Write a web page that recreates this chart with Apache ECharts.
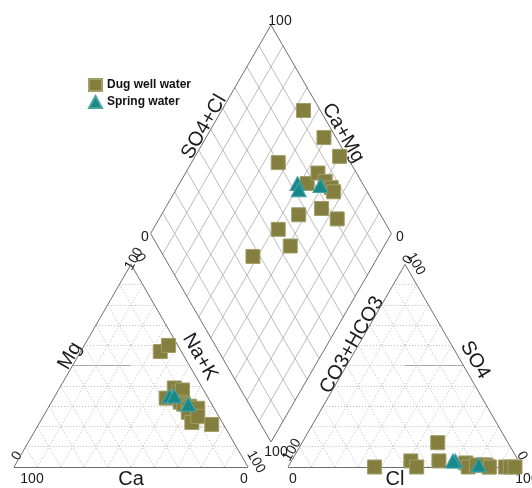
<!DOCTYPE html>
<html>
<head>
<meta charset="utf-8">
<script src="https://cdn.jsdelivr.net/npm/echarts@6/dist/echarts.min.js"></script>
<style>
  html, body { margin: 0; padding: 0; background: #fff; }
  #chart { width: 532px; height: 488px; }
</style>
</head>
<body>
<div id="chart"></div>
<script>
// Piper diagram: cation triangle (left), anion triangle (right), projection diamond (top)

// ---- sample compositions (meq %) ----
const seriesNames = ['Dug well water', 'Spring water'];

// Dug well water
const dugCa   = [9, 4, 12, 18, 11, 9, 13, 12, 10, 11, 12, 7, 13, 9, 5];
const dugMg   = [57, 60, 39, 34, 37, 38, 32, 31, 30, 29, 27, 29, 22, 25, 21];
const dugNaK  = [34, 36, 49, 48, 52, 53, 55, 57, 60, 60, 61, 64, 65, 66, 74];
const dugHCO3 = [7, 30, 5, 63, 46, 23, 16, 34, 3, 15, 45, 14, 23, 14, 19];
const dugSO4  = [0, 12, 0, 0, 3, 2, 1, 3, 0, 1, 0, 0, 0, 0, 1];
const dugCl   = [93, 58, 95, 37, 51, 75, 83, 63, 97, 84, 55, 86, 77, 86, 80];

// Spring water
const sprCa   = [16, 14, 10];
const sprMg   = [35, 35, 31];
const sprNaK  = [49, 51, 59];
const sprHCO3 = [27, 28, 18];
const sprSO4  = [3, 3, 1];
const sprCl   = [70, 69, 81];

// Tick labels
const tickMin = '0';
const tickMax = '100';

// ---- layout (plot units = pixels) ----
const W = 532, H = 488;
const S3 = Math.sqrt(3) / 2;
const triSide = 234;
const catBL = [14, 467], catBR = [catBL[0] + triSide, 467];
const catTop = [(catBL[0] + catBR[0]) / 2, 467 - triSide * S3];
const anBL = [288, 467], anBR = [anBL[0] + triSide, 467];
const anTop = [(anBL[0] + anBR[0]) / 2, 467 - triSide * S3];
const dBottom = [271, 442], dTop = [271, 25];
const dHalfH = (dBottom[1] - dTop[1]) / 2;
const dHalfW = dHalfH / Math.sqrt(3);
const dLeft = [271 - dHalfW, dBottom[1] - dHalfH];
const dRight = [271 + dHalfW, dBottom[1] - dHalfH];

function lerp2(o, u, v, s, t) {
  return [o[0] + s * (u[0] - o[0]) + t * (v[0] - o[0]),
          o[1] + s * (u[1] - o[1]) + t * (v[1] - o[1])];
}
function catPoint(ca, mg, nak) {
  const sum = ca + mg + nak;
  return lerp2(catBL, catBR, catTop, nak / sum, mg / sum);
}
function anPoint(hco3, so4, cl) {
  const sum = hco3 + so4 + cl;
  return lerp2(anBL, anBR, anTop, cl / sum, so4 / sum);
}
function diaPoint(ca, mg, nak, hco3, so4, cl) {
  const c = (ca + mg) / (ca + mg + nak);
  const a = (so4 + cl) / (hco3 + so4 + cl);
  return lerp2(dBottom, dLeft, dRight, c, a);
}
function allPoints(ca, mg, nak, hco3, so4, cl) {
  const pts = [];
  for (let i = 0; i < ca.length; i++) {
    pts.push(catPoint(ca[i], mg[i], nak[i]));
    pts.push(anPoint(hco3[i], so4[i], cl[i]));
    pts.push(diaPoint(ca[i], mg[i], nak[i], hco3[i], so4[i], cl[i]));
  }
  return pts;
}

// ---- frames and grid ----
const frameSegs = [], dotSegs = [], diaSegs = [], halfSegs = [];
function seg(arr, p, q) { arr.push({ coords: [p, q] }); }
function triGrid(bl, br, top) {
  seg(frameSegs, bl, br); seg(frameSegs, br, top); seg(frameSegs, top, bl);
  for (let k = 1; k < 10; k++) {
    const f = k / 10;
    // constant apex share
    seg(dotSegs, lerp2(bl, br, top, 0, f), lerp2(bl, br, top, 1 - f, f));
    // constant right-vertex share
    seg(dotSegs, lerp2(bl, br, top, f, 0), lerp2(bl, br, top, f, 1 - f));
    // constant left-vertex share
    seg(dotSegs, lerp2(bl, br, top, 1 - f, 0), lerp2(bl, br, top, 0, 1 - f));
  }
}
triGrid(catBL, catBR, catTop);
triGrid(anBL, anBR, anTop);
seg(halfSegs, lerp2(catBL, catBR, catTop, 0, 0.5), lerp2(catBL, catBR, catTop, 0.25, 0.5));
seg(halfSegs, lerp2(anBL, anBR, anTop, 0.25, 0.5), lerp2(anBL, anBR, anTop, 0.5, 0.5));

seg(frameSegs, dBottom, dLeft); seg(frameSegs, dLeft, dTop);
seg(frameSegs, dTop, dRight); seg(frameSegs, dRight, dBottom);
for (let k = 1; k < 10; k++) {
  const f = k / 10;
  seg(diaSegs, lerp2(dBottom, dLeft, dRight, f, 0), lerp2(dBottom, dLeft, dRight, f, 1));
  seg(diaSegs, lerp2(dBottom, dLeft, dRight, 0, f), lerp2(dBottom, dLeft, dRight, 1, f));
}

// ---- text ----
const FONT = '"Liberation Sans", Arial, sans-serif';
const R60 = Math.PI / 3;
function txt(s, x, y, size, rot) {
  return {
    type: 'text', x: x, y: y, rotation: rot || 0, silent: true,
    style: { text: s, fill: '#1a1a1a', font: size + 'px ' + FONT, align: 'center', verticalAlign: 'middle' }
  };
}
const texts = [
  // cation triangle
  txt(tickMax, 32, 479, 14), txt('Ca', 131, 479, 20), txt(tickMin, 244, 479, 14),
  txt(tickMin, 17, 456, 14, R60), txt(tickMax, 134, 259, 14, R60),
  txt(tickMin, 140, 258, 14, -R60), txt(tickMax, 256, 462, 14, -R60),
  txt('Mg', 70, 356, 20, R60), txt('Na+K', 200, 357, 20, -R60),
  // diamond
  txt(tickMax, 280, 21, 14), txt(tickMin, 145, 237, 14), txt(tickMin, 400, 237, 14),
  txt(tickMax, 276, 452, 14),
  txt('SO4+Cl', 204, 127, 20, R60), txt('Ca+Mg', 343, 133, 20, -R60),
  // anion triangle
  txt(tickMin, 293, 479, 14), txt('Cl', 395, 479, 20), txt(tickMax, 527, 479, 14),
  txt(tickMax, 292, 450, 14, R60), txt(tickMin, 408, 260, 14, R60),
  txt(tickMax, 416, 264, 14, -R60), txt(tickMin, 522, 456, 14, -R60),
  txt('CO3+HCO3', 352, 345, 20, R60), txt('SO4', 475, 360, 20, -R60)
];

const chart = echarts.init(document.getElementById('chart'), null, { renderer: 'canvas' });
chart.setOption({
  animation: false,
  backgroundColor: '#ffffff',
  grid: { left: 0, right: 0, top: 0, bottom: 0 },
  xAxis: { type: 'value', min: 0, max: W, show: false },
  yAxis: { type: 'value', min: 0, max: H, inverse: true, show: false },
  legend: {
    data: seriesNames, orient: 'vertical', left: 83, top: 73,
    itemWidth: 13, itemHeight: 12, itemGap: 3,
    textStyle: { fontFamily: FONT, fontWeight: 'bold', fontSize: 12, color: '#111' }
  },
  series: [
    { type: 'lines', coordinateSystem: 'cartesian2d', silent: true, z: 1, data: dotSegs,
      lineStyle: { color: '#b9b9b9', width: 1, type: [1, 2], opacity: 1 } },
    { type: 'lines', coordinateSystem: 'cartesian2d', silent: true, z: 1, data: diaSegs,
      lineStyle: { color: '#bdbdbd', width: 1, opacity: 1 } },
    { type: 'lines', coordinateSystem: 'cartesian2d', silent: true, z: 1, data: halfSegs,
      lineStyle: { color: '#aaaaaa', width: 1, opacity: 1 } },
    { type: 'lines', coordinateSystem: 'cartesian2d', silent: true, z: 2, data: frameSegs,
      lineStyle: { color: '#6e6e6e', width: 1, opacity: 1 } },
    { name: seriesNames[0], type: 'scatter', symbol: 'rect', symbolSize: 14, z: 5,
      data: allPoints(dugCa, dugMg, dugNaK, dugHCO3, dugSO4, dugCl),
      itemStyle: { color: '#847f3e', borderColor: '#a19e68', borderWidth: 1, opacity: 1 } },
    { name: seriesNames[1], type: 'scatter', symbol: 'triangle', symbolSize: [15, 14], z: 6,
      data: allPoints(sprCa, sprMg, sprNaK, sprHCO3, sprSO4, sprCl),
      itemStyle: { color: '#17898a', borderColor: '#4aa3a3', borderWidth: 1, opacity: 1 } }
  ],
  graphic: texts
});
</script>
</body>
</html>
